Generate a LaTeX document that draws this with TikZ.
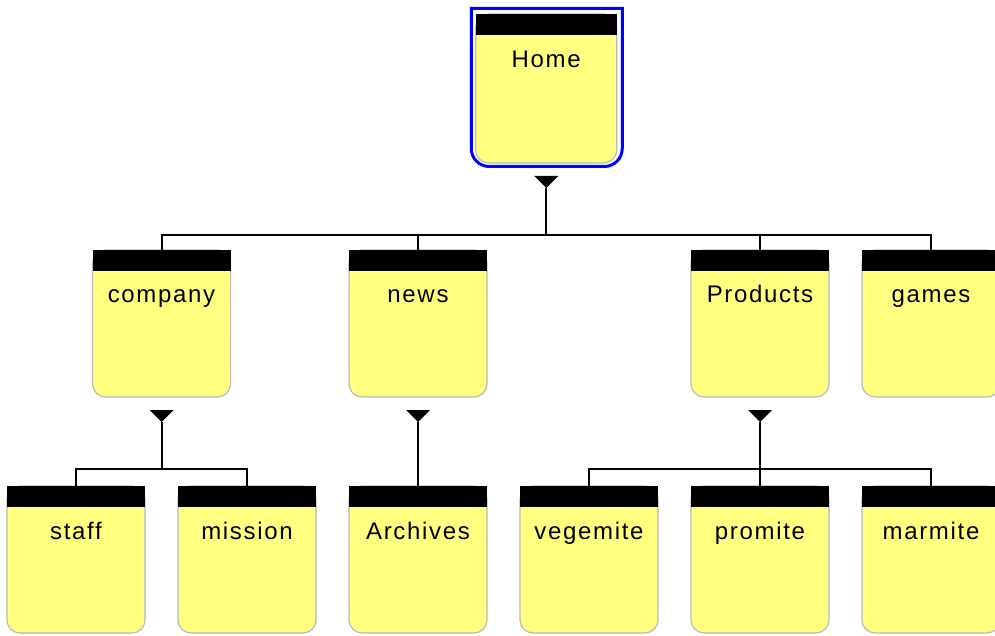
\documentclass[tikz,border=0pt]{standalone}
\usepackage{fontspec}
\setmainfont{Liberation Sans}
\newfontfamily\pagefont[LetterSpace=7]{Liberation Sans}
\usetikzlibrary{positioning, calc}
\definecolor{pageyellow}{RGB}{255,255,128}
\definecolor{pageedge}{RGB}{185,185,185}
\definecolor{homeblue}{RGB}{0,0,255}

\begin{document}
\begin{tikzpicture}[x=1pt, y=1pt, node distance=33pt]

    % Define block styles
    \tikzstyle{page} = [rectangle, rounded corners=13pt, minimum width=138pt, inner sep=0pt, outer sep=0pt, text height=53pt, text depth=94pt, fill=pageyellow, draw=pageedge, line width=1.2pt, font=\pagefont\fontsize{24}{28}\selectfont]
    \tikzstyle{homepage} = [page, minimum width=141pt, text height=54pt, text depth=95pt]
    \tikzstyle{homeframe} = [draw=homeblue, line width=3pt]
    \tikzstyle{header} = [fill=black]
    \tikzstyle{link} = [line width=2pt, black]

    \useasboundingbox (0,0) rectangle (995,635);

    % Place nodes
    \node (staff) [page] at (76,75.5) {staff};
    \node (mission) [page, right=of staff] {mission};
    \node (archives) [page, right=of mission] {Archives};
    \node (vegemite) [page, right=of archives] {vegemite};
    \node (promite) [page, right=of vegemite] {promite};
    \node (marmite) [page, right=of promite] {marmite};

    \coordinate (staffmid) at ($(staff.north)!0.5!(mission.north)$);
    \node (company) [page, above=89pt of staffmid] {company};
    \node (news) [page, above=89pt of archives] {news};
    \node (products) [page, above=89pt of promite] {Products};
    \node (games) [page, above=89pt of marmite] {games};

    \coordinate (topmid) at ($(company.north)!0.5!(games.north)$);
    \node (home) [homepage, above=87pt of topmid] {Home};

    % Headers and frame
    \foreach \n in {home, company, news, products, games, staff, mission, archives, vegemite, promite, marmite}
        \fill[header] (\n.north west) rectangle ([yshift=-21pt]\n.north east);
    \draw[homeframe] ([shift={(-4.5,5.5)}]home.north west) -- ([shift={(-4.5,14.5)}]home.south west)
        arc[start angle=180, end angle=270, radius=18] -- ([shift={(-12.5,-3.5)}]home.south east)
        arc[start angle=270, end angle=360, radius=18] -- ([shift={(5.5,5.5)}]home.north east) -- cycle;

    % Draw connectors
    \foreach \p/\kids in {home/{company, news, products, games}, company/{staff, mission}, news/{archives}, products/{vegemite, promite, marmite}} {
        \coordinate (\p tip) at ([yshift=-25pt]\p.south);
        \coordinate (\p bus) at ([yshift=-72pt]\p.south);
        \fill (\p tip) -- ++(-12,12) -- ++(24,0) -- cycle;
        \foreach \k in \kids
            \draw[link] (\p tip) -- (\p bus) -| (\k.north);
    }

\end{tikzpicture}
\end{document}
